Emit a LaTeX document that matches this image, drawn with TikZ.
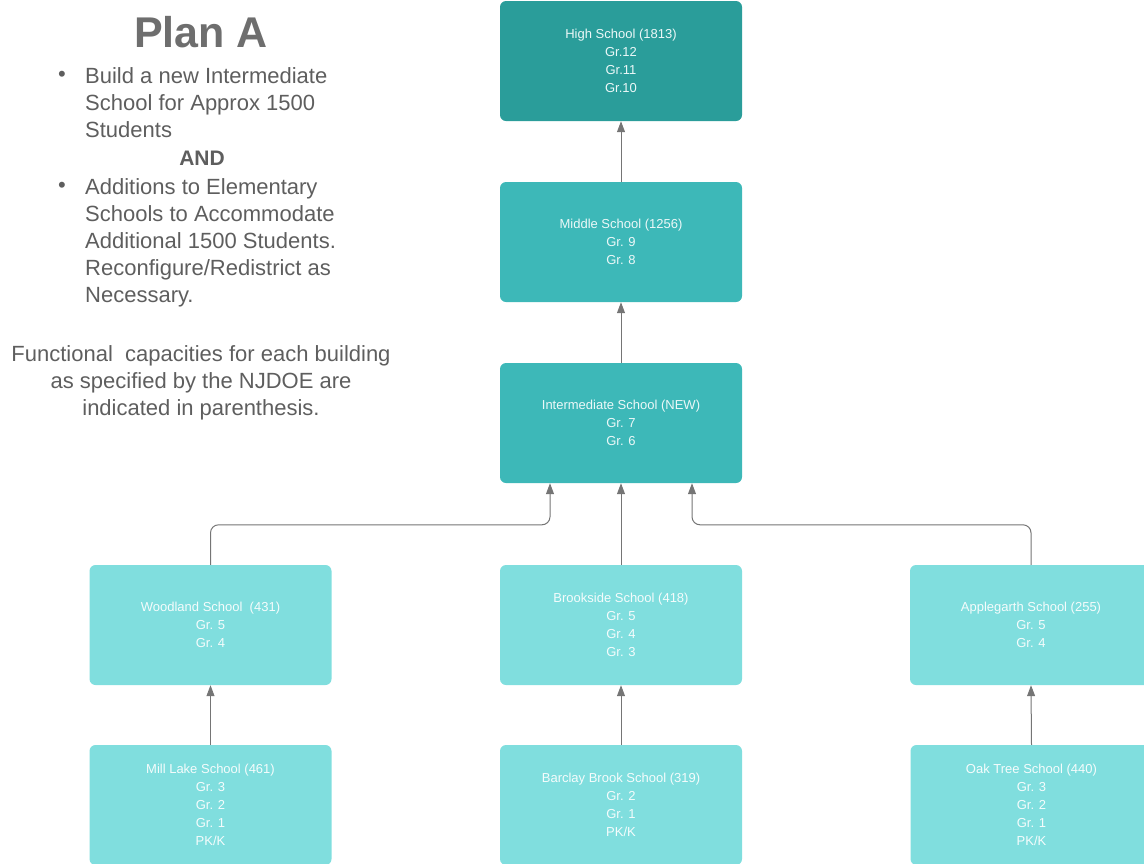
\documentclass[tikz,border=0pt]{standalone}
\usepackage{fontspec}
\setmainfont{Liberation Sans}
\usetikzlibrary{arrows.meta}
\definecolor{hsteal}{HTML}{2A9D9A}
\definecolor{midteal}{HTML}{3DB8B8}
\definecolor{lightteal}{HTML}{80DEDE}
\definecolor{txtgray}{HTML}{5E5E5E}
\definecolor{linegray}{HTML}{757575}

\begin{document}
\begin{tikzpicture}[x=1pt,y=-1pt,
    school/.style={rectangle, rounded corners=6pt, minimum width=242pt, minimum height=120pt,
      inner sep=0pt, align=center, font=\fontsize{13}{18}\selectfont},
    upper/.style={school, fill=midteal, text=white!90!midteal},
    lower/.style={school, fill=lightteal, text=white!92!lightteal},
    link/.style={draw=linegray, line width=1pt, -{Triangle[length=11pt,width=8pt]}},
    note/.style={text=txtgray, inner sep=0pt, font=\fontsize{22}{27}\selectfont}]
    \useasboundingbox (0,0) rectangle (1144,863);
    % The left column
    \node[text=txtgray!90, inner sep=0pt, font=\bfseries\fontsize{43}{50}\selectfont] (title) at (201,32) {Plan A};
    \node[note] (dot1) at (62,76) {\textbullet};
    \node[note, anchor=north west, align=left] (item1) at (85,67) {Build a new Intermediate\\School for Approx 1500\\Students};
    \node[note, font=\fontsize{21}{27}\selectfont\bfseries] (and) at (202,158) {AND};
    \node[note] (dot2) at (62,187) {\textbullet};
    \node[note, anchor=north west, align=left] (item2) at (85,178) {Additions to Elementary\\Schools to Accommodate\\Additional 1500 Students.\\Reconfigure/Redistrict as\\Necessary.};
    \node[note, anchor=north, align=center] (remark) at (201,345) {Functional~~capacities for each building\\as specified by the NJDOE are\\indicated in parenthesis.};
    % The schools
    \node[upper, fill=hsteal] (hs) at (621,61) {High School (1813)\\Gr.12\\Gr.11\\Gr.10};
    \node[upper] (ms) at (621,242) {Middle School (1256)\\Gr. 9\\Gr. 8};
    \node[upper] (is) at (621,423) {Intermediate School (NEW)\\Gr. 7\\Gr. 6};
    \node[lower] (wood) at (210.5,625) {Woodland School~~(431)\\Gr. 5\\Gr. 4};
    \node[lower] (brook) at (621,625) {Brookside School (418)\\Gr. 5\\Gr. 4\\Gr. 3};
    \node[lower] (apple) at (1031,625) {Applegarth School (255)\\Gr. 5\\Gr. 4};
    \node[lower] (mill) at (210.5,805) {Mill Lake School (461)\\Gr. 3\\Gr. 2\\Gr. 1\\PK/K};
    \node[lower] (barclay) at (621,805) {Barclay Brook School (319)\\Gr. 2\\Gr. 1\\PK/K};
    \node[lower] (oak) at (1031.5,805) {Oak Tree School (440)\\Gr. 3\\Gr. 2\\Gr. 1\\PK/K};
    % Feeder arrows
    \draw[link] (ms.north) -- (hs.south);
    \draw[link] (is.north) -- (ms.south);
    \draw[link] (brook.north) -- (is.south);
    \draw[link, rounded corners=8pt] (wood.north) -- ++(0,-40) -| ([xshift=-71pt]is.south);
    \draw[link, rounded corners=8pt] (apple.north) -- ++(0,-40) -| ([xshift=71pt]is.south);
    \draw[link] (mill.north) -- (wood.south);
    \draw[link] (barclay.north) -- (brook.south);
    \draw[link] (oak.north) -- (apple.south);
\end{tikzpicture}
\end{document}
